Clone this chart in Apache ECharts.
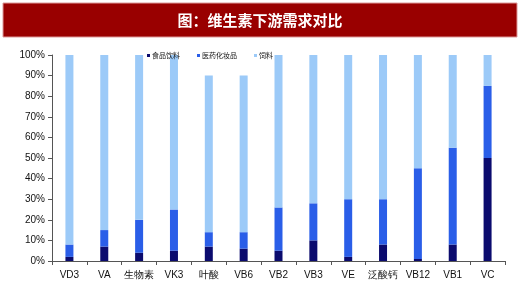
<!DOCTYPE html>
<html><head><meta charset="utf-8">
<script src="https://cdn.jsdelivr.net/npm/echarts@6/dist/echarts.min.js"></script>
<style>html,body{margin:0;padding:0;background:#fff}#c{width:520px;height:289px}</style>
</head><body><div id="c"></div>
<script>
var categories = ['VD3','VA','生物素','VK3','叶酸','VB6','VB2','VB3','VE','泛酸钙','VB12','VB1','VC'];
var food = [2,7,4,5,7,6,5,10,2,8,1,8,50];
var pharma = [6,8,16,20,7,8,21,18,28,22,44,47,35];
var feed = [92,85,80,75,76,76,74,72,70,70,55,45,15];
var seriesNames = ['食品饮料','医药化妆品','饲料'];
var yTicks = [0,10,20,30,40,50,60,70,80,90,100];
var titleText = '图：维生素下游需求对比';

var chart = echarts.init(document.getElementById('c'));
var font = 'Liberation Sans, Arial, sans-serif';
var colors = ['#0b0b6e','#2a5ee8','#9ccaf8'];
function mk(name, data, i){
  return {name:name,type:'bar',stack:'s',data:data,barWidth:8,
    itemStyle:{color:colors[i]}};
}
chart.setOption({
  animation:false,
  graphic:[
    {type:'rect',shape:{x:3,y:3,width:514,height:34},style:{fill:'#990000',stroke:'#d99',lineWidth:1}},
    {type:'text',x:260,y:20,style:{text:titleText,fill:'#fff',font:'bold 15px "Noto Sans CJK SC"',textAlign:'center',textVerticalAlign:'middle'}}
  ],
  legend:{left:142,top:47,itemWidth:3,itemHeight:3,itemGap:17,icon:'rect',
    textStyle:{fontSize:7,color:'#111',fontFamily:'Noto Sans CJK SC',padding:[0,0,0,-3]},
    data:seriesNames},
  grid:{left:52,right:15,top:55,bottom:28},
  xAxis:{type:'category',data:categories,
    axisLine:{lineStyle:{color:'#555',width:1}},
    axisTick:{show:true,alignWithLabel:false,interval:0,length:4,lineStyle:{color:'#555'}},
    axisLabel:{color:'#111',fontSize:10,fontFamily:font,margin:9,interval:0}},
  yAxis:{type:'value',min:0,max:100,interval:10,
    axisLine:{show:true,lineStyle:{color:'#555'}},
    axisTick:{show:true,length:4,lineStyle:{color:'#555'}},
    splitLine:{show:false},
    axisLabel:{color:'#111',fontSize:10,fontFamily:font,margin:7,
      formatter:function(v){return yTicks.indexOf(v)>=0? v+'%':'';}}},
  series:[mk(seriesNames[0],food,0),mk(seriesNames[1],pharma,1),mk(seriesNames[2],feed,2)]
});
</script></body></html>
